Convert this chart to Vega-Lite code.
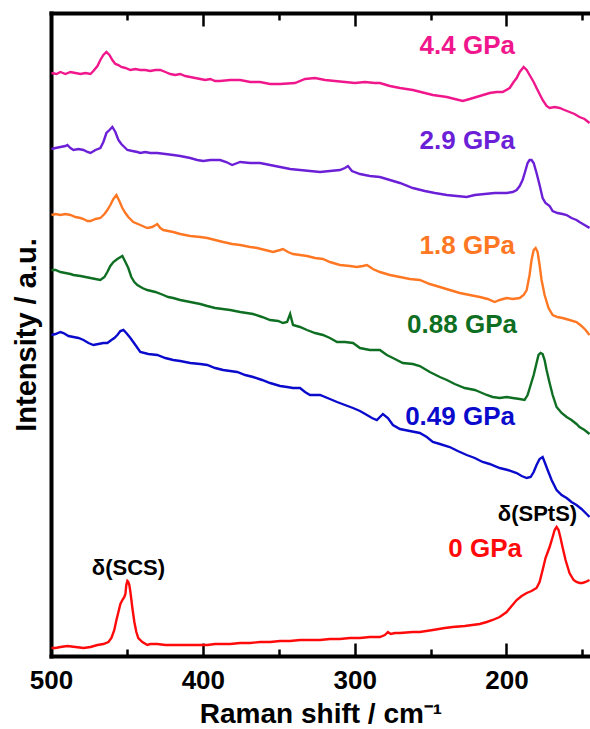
{
  "$schema": "https://vega.github.io/schema/vega-lite/v6.json",
  "width": 539,
  "height": 643,
  "autosize": {"type": "none"},
  "padding": {"left": 51, "top": 13, "right": 0, "bottom": 73},
  "config": {"view": {"stroke": null}, "font": "Liberation Sans"},
  "datasets": {
    "spectra": [
      {"s":"4.4 GPa","x":499.7,"y":583},{"s":"4.4 GPa","x":496.4,"y":582},{"s":"4.4 GPa","x":493.8,"y":584},{"s":"4.4 GPa","x":490.5,"y":582},{"s":"4.4 GPa","x":487.2,"y":584},{"s":"4.4 GPa","x":483.9,"y":583},{"s":"4.4 GPa","x":480.6,"y":582},{"s":"4.4 GPa","x":477.3,"y":583},{"s":"4.4 GPa","x":474.0,"y":582},{"s":"4.4 GPa","x":472.1,"y":585},{"s":"4.4 GPa","x":469.4,"y":590},{"s":"4.4 GPa","x":467.5,"y":596},{"s":"4.4 GPa","x":465.5,"y":601},{"s":"4.4 GPa","x":463.5,"y":604},{"s":"4.4 GPa","x":461.5,"y":601},{"s":"4.4 GPa","x":459.6,"y":596},{"s":"4.4 GPa","x":457.6,"y":592},{"s":"4.4 GPa","x":455.6,"y":591},{"s":"4.4 GPa","x":453.7,"y":589},{"s":"4.4 GPa","x":451.0,"y":588},{"s":"4.4 GPa","x":447.7,"y":586},{"s":"4.4 GPa","x":444.4,"y":587},{"s":"4.4 GPa","x":441.2,"y":586},{"s":"4.4 GPa","x":437.9,"y":586},{"s":"4.4 GPa","x":434.6,"y":585},{"s":"4.4 GPa","x":431.3,"y":586},{"s":"4.4 GPa","x":428.0,"y":586},{"s":"4.4 GPa","x":424.7,"y":584},{"s":"4.4 GPa","x":421.4,"y":582},{"s":"4.4 GPa","x":418.2,"y":581},{"s":"4.4 GPa","x":414.9,"y":582},{"s":"4.4 GPa","x":411.6,"y":580},{"s":"4.4 GPa","x":408.3,"y":579},{"s":"4.4 GPa","x":405.0,"y":578},{"s":"4.4 GPa","x":401.7,"y":577},{"s":"4.4 GPa","x":398.4,"y":576},{"s":"4.4 GPa","x":395.1,"y":577},{"s":"4.4 GPa","x":391.9,"y":575},{"s":"4.4 GPa","x":388.6,"y":575},{"s":"4.4 GPa","x":382.0,"y":576},{"s":"4.4 GPa","x":375.4,"y":576},{"s":"4.4 GPa","x":368.8,"y":574},{"s":"4.4 GPa","x":362.3,"y":574},{"s":"4.4 GPa","x":355.7,"y":572},{"s":"4.4 GPa","x":349.1,"y":572},{"s":"4.4 GPa","x":339.3,"y":573},{"s":"4.4 GPa","x":332.7,"y":577},{"s":"4.4 GPa","x":326.1,"y":578},{"s":"4.4 GPa","x":319.5,"y":576},{"s":"4.4 GPa","x":313.0,"y":575},{"s":"4.4 GPa","x":306.4,"y":574},{"s":"4.4 GPa","x":299.8,"y":573},{"s":"4.4 GPa","x":293.2,"y":574},{"s":"4.4 GPa","x":286.7,"y":573},{"s":"4.4 GPa","x":283.4,"y":573},{"s":"4.4 GPa","x":276.8,"y":570},{"s":"4.4 GPa","x":270.2,"y":568},{"s":"4.4 GPa","x":261.7,"y":566},{"s":"4.4 GPa","x":253.8,"y":563},{"s":"4.4 GPa","x":248.5,"y":561},{"s":"4.4 GPa","x":239.3,"y":559},{"s":"4.4 GPa","x":234.1,"y":557},{"s":"4.4 GPa","x":228.8,"y":555},{"s":"4.4 GPa","x":224.2,"y":557},{"s":"4.4 GPa","x":217.6,"y":560},{"s":"4.4 GPa","x":211.1,"y":563},{"s":"4.4 GPa","x":206.5,"y":564},{"s":"4.4 GPa","x":202.5,"y":564},{"s":"4.4 GPa","x":197.9,"y":568},{"s":"4.4 GPa","x":195.3,"y":574},{"s":"4.4 GPa","x":193.3,"y":578},{"s":"4.4 GPa","x":191.3,"y":584},{"s":"4.4 GPa","x":188.7,"y":589},{"s":"4.4 GPa","x":186.7,"y":586},{"s":"4.4 GPa","x":184.8,"y":581},{"s":"4.4 GPa","x":182.1,"y":574},{"s":"4.4 GPa","x":180.2,"y":568},{"s":"4.4 GPa","x":178.2,"y":562},{"s":"4.4 GPa","x":176.2,"y":556},{"s":"4.4 GPa","x":173.6,"y":550},{"s":"4.4 GPa","x":171.6,"y":548},{"s":"4.4 GPa","x":168.3,"y":549},{"s":"4.4 GPa","x":165.0,"y":548},{"s":"4.4 GPa","x":161.8,"y":546},{"s":"4.4 GPa","x":158.5,"y":544},{"s":"4.4 GPa","x":155.2,"y":542},{"s":"4.4 GPa","x":151.9,"y":539},{"s":"4.4 GPa","x":148.6,"y":537},{"s":"4.4 GPa","x":145.3,"y":533},

      {"s":"2.9 GPa","x":499.7,"y":507},{"s":"2.9 GPa","x":497.0,"y":508},{"s":"2.9 GPa","x":493.8,"y":509},{"s":"2.9 GPa","x":490.5,"y":510},{"s":"2.9 GPa","x":489.2,"y":511},{"s":"2.9 GPa","x":487.2,"y":508},{"s":"2.9 GPa","x":485.2,"y":506},{"s":"2.9 GPa","x":481.9,"y":507},{"s":"2.9 GPa","x":478.6,"y":506},{"s":"2.9 GPa","x":476.0,"y":504},{"s":"2.9 GPa","x":474.0,"y":503},{"s":"2.9 GPa","x":470.7,"y":506},{"s":"2.9 GPa","x":467.5,"y":508},{"s":"2.9 GPa","x":465.5,"y":514},{"s":"2.9 GPa","x":463.5,"y":523},{"s":"2.9 GPa","x":461.5,"y":526},{"s":"2.9 GPa","x":459.6,"y":529},{"s":"2.9 GPa","x":457.6,"y":524},{"s":"2.9 GPa","x":455.6,"y":516},{"s":"2.9 GPa","x":453.7,"y":512},{"s":"2.9 GPa","x":451.7,"y":509},{"s":"2.9 GPa","x":449.7,"y":506},{"s":"2.9 GPa","x":446.4,"y":505},{"s":"2.9 GPa","x":443.1,"y":504},{"s":"2.9 GPa","x":441.2,"y":503},{"s":"2.9 GPa","x":437.9,"y":504},{"s":"2.9 GPa","x":434.6,"y":503},{"s":"2.9 GPa","x":430.0,"y":503},{"s":"2.9 GPa","x":424.7,"y":502},{"s":"2.9 GPa","x":419.5,"y":501},{"s":"2.9 GPa","x":414.9,"y":500},{"s":"2.9 GPa","x":408.3,"y":498},{"s":"2.9 GPa","x":403.7,"y":496},{"s":"2.9 GPa","x":399.7,"y":495},{"s":"2.9 GPa","x":395.1,"y":496},{"s":"2.9 GPa","x":388.6,"y":496},{"s":"2.9 GPa","x":384.6,"y":494},{"s":"2.9 GPa","x":380.7,"y":491},{"s":"2.9 GPa","x":375.4,"y":494},{"s":"2.9 GPa","x":368.8,"y":493},{"s":"2.9 GPa","x":362.3,"y":493},{"s":"2.9 GPa","x":355.7,"y":491},{"s":"2.9 GPa","x":349.1,"y":489},{"s":"2.9 GPa","x":342.5,"y":487},{"s":"2.9 GPa","x":336.0,"y":486},{"s":"2.9 GPa","x":329.4,"y":485},{"s":"2.9 GPa","x":322.8,"y":484},{"s":"2.9 GPa","x":316.3,"y":485},{"s":"2.9 GPa","x":309.7,"y":486},{"s":"2.9 GPa","x":306.4,"y":488},{"s":"2.9 GPa","x":304.4,"y":490},{"s":"2.9 GPa","x":301.8,"y":485},{"s":"2.9 GPa","x":296.5,"y":482},{"s":"2.9 GPa","x":290.0,"y":480},{"s":"2.9 GPa","x":283.4,"y":479},{"s":"2.9 GPa","x":276.8,"y":476},{"s":"2.9 GPa","x":270.2,"y":473},{"s":"2.9 GPa","x":261.7,"y":468},{"s":"2.9 GPa","x":253.8,"y":465},{"s":"2.9 GPa","x":247.2,"y":463},{"s":"2.9 GPa","x":239.3,"y":461},{"s":"2.9 GPa","x":232.8,"y":460},{"s":"2.9 GPa","x":226.2,"y":459},{"s":"2.9 GPa","x":220.9,"y":461},{"s":"2.9 GPa","x":214.4,"y":462},{"s":"2.9 GPa","x":207.8,"y":463},{"s":"2.9 GPa","x":199.9,"y":463},{"s":"2.9 GPa","x":195.9,"y":464},{"s":"2.9 GPa","x":193.3,"y":466},{"s":"2.9 GPa","x":191.3,"y":470},{"s":"2.9 GPa","x":189.4,"y":476},{"s":"2.9 GPa","x":187.4,"y":486},{"s":"2.9 GPa","x":186.1,"y":493},{"s":"2.9 GPa","x":184.8,"y":496},{"s":"2.9 GPa","x":183.5,"y":496},{"s":"2.9 GPa","x":182.1,"y":493},{"s":"2.9 GPa","x":180.2,"y":483},{"s":"2.9 GPa","x":178.2,"y":471},{"s":"2.9 GPa","x":176.2,"y":458},{"s":"2.9 GPa","x":174.3,"y":453},{"s":"2.9 GPa","x":171.6,"y":450},{"s":"2.9 GPa","x":169.6,"y":445},{"s":"2.9 GPa","x":166.4,"y":443},{"s":"2.9 GPa","x":163.1,"y":442},{"s":"2.9 GPa","x":160.4,"y":441},{"s":"2.9 GPa","x":157.2,"y":438},{"s":"2.9 GPa","x":153.9,"y":436},{"s":"2.9 GPa","x":151.9,"y":434},{"s":"2.9 GPa","x":148.6,"y":431},{"s":"2.9 GPa","x":145.3,"y":428},

      {"s":"1.8 GPa","x":499.7,"y":441},{"s":"1.8 GPa","x":497.0,"y":442},{"s":"1.8 GPa","x":493.8,"y":441},{"s":"1.8 GPa","x":490.5,"y":442},{"s":"1.8 GPa","x":487.2,"y":441},{"s":"1.8 GPa","x":483.9,"y":439},{"s":"1.8 GPa","x":480.6,"y":438},{"s":"1.8 GPa","x":478.6,"y":437},{"s":"1.8 GPa","x":476.0,"y":435},{"s":"1.8 GPa","x":474.0,"y":435},{"s":"1.8 GPa","x":470.7,"y":437},{"s":"1.8 GPa","x":467.5,"y":438},{"s":"1.8 GPa","x":464.8,"y":442},{"s":"1.8 GPa","x":462.9,"y":446},{"s":"1.8 GPa","x":460.9,"y":451},{"s":"1.8 GPa","x":458.9,"y":457},{"s":"1.8 GPa","x":456.9,"y":461},{"s":"1.8 GPa","x":455.0,"y":455},{"s":"1.8 GPa","x":453.0,"y":448},{"s":"1.8 GPa","x":451.0,"y":443},{"s":"1.8 GPa","x":449.1,"y":439},{"s":"1.8 GPa","x":445.8,"y":434},{"s":"1.8 GPa","x":441.2,"y":431},{"s":"1.8 GPa","x":436.6,"y":428},{"s":"1.8 GPa","x":433.3,"y":429},{"s":"1.8 GPa","x":430.0,"y":432},{"s":"1.8 GPa","x":428.0,"y":428},{"s":"1.8 GPa","x":426.0,"y":426},{"s":"1.8 GPa","x":422.8,"y":425},{"s":"1.8 GPa","x":419.5,"y":424},{"s":"1.8 GPa","x":414.9,"y":422},{"s":"1.8 GPa","x":408.3,"y":420},{"s":"1.8 GPa","x":401.7,"y":419},{"s":"1.8 GPa","x":397.1,"y":418},{"s":"1.8 GPa","x":391.9,"y":416},{"s":"1.8 GPa","x":386.6,"y":414},{"s":"1.8 GPa","x":380.7,"y":412},{"s":"1.8 GPa","x":375.4,"y":411},{"s":"1.8 GPa","x":368.8,"y":409},{"s":"1.8 GPa","x":364.2,"y":408},{"s":"1.8 GPa","x":359.0,"y":406},{"s":"1.8 GPa","x":353.7,"y":404},{"s":"1.8 GPa","x":349.1,"y":406},{"s":"1.8 GPa","x":347.2,"y":407},{"s":"1.8 GPa","x":343.9,"y":404},{"s":"1.8 GPa","x":340.6,"y":402},{"s":"1.8 GPa","x":336.0,"y":401},{"s":"1.8 GPa","x":331.4,"y":400},{"s":"1.8 GPa","x":326.1,"y":398},{"s":"1.8 GPa","x":320.9,"y":397},{"s":"1.8 GPa","x":316.3,"y":394},{"s":"1.8 GPa","x":309.7,"y":391},{"s":"1.8 GPa","x":303.1,"y":390},{"s":"1.8 GPa","x":298.5,"y":389},{"s":"1.8 GPa","x":294.6,"y":390},{"s":"1.8 GPa","x":291.9,"y":391},{"s":"1.8 GPa","x":288.0,"y":387},{"s":"1.8 GPa","x":283.4,"y":384},{"s":"1.8 GPa","x":276.8,"y":381},{"s":"1.8 GPa","x":270.2,"y":379},{"s":"1.8 GPa","x":263.7,"y":377},{"s":"1.8 GPa","x":257.1,"y":376},{"s":"1.8 GPa","x":250.5,"y":372},{"s":"1.8 GPa","x":243.9,"y":369},{"s":"1.8 GPa","x":237.4,"y":366},{"s":"1.8 GPa","x":230.8,"y":363},{"s":"1.8 GPa","x":224.2,"y":361},{"s":"1.8 GPa","x":217.6,"y":359},{"s":"1.8 GPa","x":212.4,"y":357},{"s":"1.8 GPa","x":207.8,"y":354},{"s":"1.8 GPa","x":204.5,"y":356},{"s":"1.8 GPa","x":199.9,"y":358},{"s":"1.8 GPa","x":195.9,"y":357},{"s":"1.8 GPa","x":191.3,"y":358},{"s":"1.8 GPa","x":188.7,"y":361},{"s":"1.8 GPa","x":186.7,"y":366},{"s":"1.8 GPa","x":184.8,"y":381},{"s":"1.8 GPa","x":183.5,"y":396},{"s":"1.8 GPa","x":182.1,"y":406},{"s":"1.8 GPa","x":180.8,"y":408},{"s":"1.8 GPa","x":179.5,"y":404},{"s":"1.8 GPa","x":178.2,"y":391},{"s":"1.8 GPa","x":176.9,"y":376},{"s":"1.8 GPa","x":174.9,"y":361},{"s":"1.8 GPa","x":172.3,"y":348},{"s":"1.8 GPa","x":169.6,"y":341},{"s":"1.8 GPa","x":166.4,"y":339},{"s":"1.8 GPa","x":163.1,"y":338},{"s":"1.8 GPa","x":158.5,"y":336},{"s":"1.8 GPa","x":153.9,"y":334},{"s":"1.8 GPa","x":150.6,"y":330},{"s":"1.8 GPa","x":147.9,"y":326},{"s":"1.8 GPa","x":145.3,"y":321},

      {"s":"0.88 GPa","x":499.7,"y":386},{"s":"0.88 GPa","x":497.0,"y":386},{"s":"0.88 GPa","x":493.8,"y":384},{"s":"0.88 GPa","x":490.5,"y":383},{"s":"0.88 GPa","x":487.2,"y":382},{"s":"0.88 GPa","x":485.2,"y":381},{"s":"0.88 GPa","x":480.6,"y":380},{"s":"0.88 GPa","x":477.3,"y":379},{"s":"0.88 GPa","x":474.0,"y":378},{"s":"0.88 GPa","x":470.7,"y":377},{"s":"0.88 GPa","x":467.5,"y":376},{"s":"0.88 GPa","x":464.8,"y":379},{"s":"0.88 GPa","x":462.9,"y":384},{"s":"0.88 GPa","x":460.9,"y":390},{"s":"0.88 GPa","x":458.9,"y":394},{"s":"0.88 GPa","x":456.3,"y":397},{"s":"0.88 GPa","x":453.0,"y":400},{"s":"0.88 GPa","x":451.0,"y":394},{"s":"0.88 GPa","x":449.1,"y":388},{"s":"0.88 GPa","x":447.1,"y":379},{"s":"0.88 GPa","x":445.1,"y":374},{"s":"0.88 GPa","x":443.1,"y":371},{"s":"0.88 GPa","x":439.8,"y":368},{"s":"0.88 GPa","x":436.6,"y":366},{"s":"0.88 GPa","x":431.3,"y":364},{"s":"0.88 GPa","x":426.0,"y":361},{"s":"0.88 GPa","x":422.8,"y":359},{"s":"0.88 GPa","x":419.5,"y":358},{"s":"0.88 GPa","x":414.9,"y":356},{"s":"0.88 GPa","x":408.3,"y":354},{"s":"0.88 GPa","x":401.7,"y":352},{"s":"0.88 GPa","x":397.1,"y":350},{"s":"0.88 GPa","x":391.9,"y":348},{"s":"0.88 GPa","x":382.0,"y":346},{"s":"0.88 GPa","x":375.4,"y":344},{"s":"0.88 GPa","x":366.9,"y":342},{"s":"0.88 GPa","x":361.0,"y":339},{"s":"0.88 GPa","x":355.7,"y":336},{"s":"0.88 GPa","x":350.4,"y":335},{"s":"0.88 GPa","x":347.2,"y":333},{"s":"0.88 GPa","x":344.5,"y":334},{"s":"0.88 GPa","x":342.5,"y":342},{"s":"0.88 GPa","x":340.6,"y":331},{"s":"0.88 GPa","x":336.0,"y":329},{"s":"0.88 GPa","x":331.4,"y":326},{"s":"0.88 GPa","x":326.1,"y":323},{"s":"0.88 GPa","x":320.9,"y":321},{"s":"0.88 GPa","x":316.3,"y":318},{"s":"0.88 GPa","x":311.6,"y":314},{"s":"0.88 GPa","x":306.4,"y":314},{"s":"0.88 GPa","x":301.1,"y":313},{"s":"0.88 GPa","x":296.5,"y":308},{"s":"0.88 GPa","x":290.0,"y":306},{"s":"0.88 GPa","x":283.4,"y":306},{"s":"0.88 GPa","x":278.8,"y":301},{"s":"0.88 GPa","x":273.5,"y":297},{"s":"0.88 GPa","x":268.3,"y":293},{"s":"0.88 GPa","x":261.7,"y":292},{"s":"0.88 GPa","x":257.1,"y":290},{"s":"0.88 GPa","x":250.5,"y":284},{"s":"0.88 GPa","x":243.9,"y":279},{"s":"0.88 GPa","x":239.3,"y":276},{"s":"0.88 GPa","x":234.1,"y":272},{"s":"0.88 GPa","x":227.5,"y":268},{"s":"0.88 GPa","x":220.9,"y":266},{"s":"0.88 GPa","x":217.6,"y":264},{"s":"0.88 GPa","x":213.0,"y":261},{"s":"0.88 GPa","x":209.1,"y":259},{"s":"0.88 GPa","x":204.5,"y":258},{"s":"0.88 GPa","x":199.9,"y":259},{"s":"0.88 GPa","x":195.9,"y":258},{"s":"0.88 GPa","x":191.3,"y":257},{"s":"0.88 GPa","x":188.1,"y":256},{"s":"0.88 GPa","x":186.1,"y":261},{"s":"0.88 GPa","x":184.1,"y":271},{"s":"0.88 GPa","x":182.1,"y":281},{"s":"0.88 GPa","x":180.2,"y":293},{"s":"0.88 GPa","x":178.9,"y":301},{"s":"0.88 GPa","x":177.5,"y":303},{"s":"0.88 GPa","x":176.2,"y":302},{"s":"0.88 GPa","x":174.9,"y":296},{"s":"0.88 GPa","x":173.6,"y":286},{"s":"0.88 GPa","x":171.6,"y":273},{"s":"0.88 GPa","x":169.6,"y":261},{"s":"0.88 GPa","x":167.0,"y":249},{"s":"0.88 GPa","x":163.7,"y":243},{"s":"0.88 GPa","x":160.4,"y":239},{"s":"0.88 GPa","x":157.2,"y":236},{"s":"0.88 GPa","x":153.9,"y":232},{"s":"0.88 GPa","x":151.9,"y":229},{"s":"0.88 GPa","x":148.6,"y":226},{"s":"0.88 GPa","x":145.3,"y":222},

      {"s":"0.49 GPa","x":499.7,"y":321},{"s":"0.49 GPa","x":497.0,"y":322},{"s":"0.49 GPa","x":493.8,"y":324},{"s":"0.49 GPa","x":491.8,"y":323},{"s":"0.49 GPa","x":488.5,"y":320},{"s":"0.49 GPa","x":485.2,"y":319},{"s":"0.49 GPa","x":481.9,"y":318},{"s":"0.49 GPa","x":478.6,"y":316},{"s":"0.49 GPa","x":475.3,"y":313},{"s":"0.49 GPa","x":472.1,"y":311},{"s":"0.49 GPa","x":468.8,"y":312},{"s":"0.49 GPa","x":465.5,"y":313},{"s":"0.49 GPa","x":462.9,"y":313},{"s":"0.49 GPa","x":460.2,"y":316},{"s":"0.49 GPa","x":458.3,"y":318},{"s":"0.49 GPa","x":456.3,"y":321},{"s":"0.49 GPa","x":454.3,"y":325},{"s":"0.49 GPa","x":452.3,"y":326},{"s":"0.49 GPa","x":450.4,"y":323},{"s":"0.49 GPa","x":447.7,"y":318},{"s":"0.49 GPa","x":444.4,"y":311},{"s":"0.49 GPa","x":441.2,"y":304},{"s":"0.49 GPa","x":435.9,"y":302},{"s":"0.49 GPa","x":430.0,"y":301},{"s":"0.49 GPa","x":424.7,"y":298},{"s":"0.49 GPa","x":419.5,"y":296},{"s":"0.49 GPa","x":414.9,"y":295},{"s":"0.49 GPa","x":408.3,"y":293},{"s":"0.49 GPa","x":401.7,"y":292},{"s":"0.49 GPa","x":397.1,"y":291},{"s":"0.49 GPa","x":391.9,"y":288},{"s":"0.49 GPa","x":386.6,"y":286},{"s":"0.49 GPa","x":382.0,"y":285},{"s":"0.49 GPa","x":377.4,"y":284},{"s":"0.49 GPa","x":372.1,"y":281},{"s":"0.49 GPa","x":366.9,"y":279},{"s":"0.49 GPa","x":361.0,"y":276},{"s":"0.49 GPa","x":355.7,"y":273},{"s":"0.49 GPa","x":349.1,"y":270},{"s":"0.49 GPa","x":344.5,"y":269},{"s":"0.49 GPa","x":340.6,"y":268},{"s":"0.49 GPa","x":336.0,"y":268},{"s":"0.49 GPa","x":332.7,"y":264},{"s":"0.49 GPa","x":329.4,"y":261},{"s":"0.49 GPa","x":322.8,"y":261},{"s":"0.49 GPa","x":316.3,"y":257},{"s":"0.49 GPa","x":311.6,"y":254},{"s":"0.49 GPa","x":306.4,"y":251},{"s":"0.49 GPa","x":301.1,"y":248},{"s":"0.49 GPa","x":296.5,"y":245},{"s":"0.49 GPa","x":291.9,"y":241},{"s":"0.49 GPa","x":288.6,"y":238},{"s":"0.49 GPa","x":285.4,"y":236},{"s":"0.49 GPa","x":281.4,"y":242},{"s":"0.49 GPa","x":278.1,"y":238},{"s":"0.49 GPa","x":274.8,"y":231},{"s":"0.49 GPa","x":270.2,"y":227},{"s":"0.49 GPa","x":263.7,"y":225},{"s":"0.49 GPa","x":257.1,"y":223},{"s":"0.49 GPa","x":252.5,"y":219},{"s":"0.49 GPa","x":248.5,"y":214},{"s":"0.49 GPa","x":243.9,"y":212},{"s":"0.49 GPa","x":237.4,"y":209},{"s":"0.49 GPa","x":232.1,"y":205},{"s":"0.49 GPa","x":226.2,"y":201},{"s":"0.49 GPa","x":220.9,"y":198},{"s":"0.49 GPa","x":215.7,"y":194},{"s":"0.49 GPa","x":211.1,"y":192},{"s":"0.49 GPa","x":204.5,"y":188},{"s":"0.49 GPa","x":199.2,"y":186},{"s":"0.49 GPa","x":193.3,"y":183},{"s":"0.49 GPa","x":190.0,"y":180},{"s":"0.49 GPa","x":186.7,"y":178},{"s":"0.49 GPa","x":184.1,"y":179},{"s":"0.49 GPa","x":182.1,"y":184},{"s":"0.49 GPa","x":180.2,"y":191},{"s":"0.49 GPa","x":178.2,"y":197},{"s":"0.49 GPa","x":176.2,"y":199},{"s":"0.49 GPa","x":174.9,"y":194},{"s":"0.49 GPa","x":172.9,"y":186},{"s":"0.49 GPa","x":170.3,"y":176},{"s":"0.49 GPa","x":167.0,"y":166},{"s":"0.49 GPa","x":163.7,"y":161},{"s":"0.49 GPa","x":160.4,"y":158},{"s":"0.49 GPa","x":157.2,"y":154},{"s":"0.49 GPa","x":153.9,"y":151},{"s":"0.49 GPa","x":150.6,"y":147},{"s":"0.49 GPa","x":147.9,"y":143},{"s":"0.49 GPa","x":145.3,"y":139},

      {"s":"0 GPa","x":499.7,"y":8},{"s":"0 GPa","x":497.0,"y":8},{"s":"0 GPa","x":493.8,"y":9},{"s":"0 GPa","x":489.2,"y":10},{"s":"0 GPa","x":483.9,"y":9},{"s":"0 GPa","x":478.6,"y":8},{"s":"0 GPa","x":474.0,"y":9},{"s":"0 GPa","x":469.4,"y":11},{"s":"0 GPa","x":465.5,"y":12},{"s":"0 GPa","x":462.2,"y":14},{"s":"0 GPa","x":460.2,"y":18},{"s":"0 GPa","x":458.3,"y":26},{"s":"0 GPa","x":456.9,"y":36},{"s":"0 GPa","x":455.6,"y":44},{"s":"0 GPa","x":454.3,"y":52},{"s":"0 GPa","x":453.0,"y":56},{"s":"0 GPa","x":451.7,"y":59},{"s":"0 GPa","x":451.0,"y":62},{"s":"0 GPa","x":450.4,"y":71},{"s":"0 GPa","x":449.7,"y":75},{"s":"0 GPa","x":449.1,"y":74},{"s":"0 GPa","x":448.4,"y":71},{"s":"0 GPa","x":447.7,"y":64},{"s":"0 GPa","x":446.4,"y":48},{"s":"0 GPa","x":445.1,"y":34},{"s":"0 GPa","x":443.8,"y":24},{"s":"0 GPa","x":442.5,"y":18},{"s":"0 GPa","x":439.8,"y":14},{"s":"0 GPa","x":436.6,"y":11},{"s":"0 GPa","x":434.6,"y":12},{"s":"0 GPa","x":430.0,"y":12},{"s":"0 GPa","x":424.7,"y":11},{"s":"0 GPa","x":419.5,"y":11},{"s":"0 GPa","x":414.9,"y":11},{"s":"0 GPa","x":408.3,"y":11},{"s":"0 GPa","x":401.7,"y":11},{"s":"0 GPa","x":397.1,"y":11},{"s":"0 GPa","x":391.9,"y":12},{"s":"0 GPa","x":386.6,"y":12},{"s":"0 GPa","x":382.0,"y":12},{"s":"0 GPa","x":375.4,"y":13},{"s":"0 GPa","x":368.8,"y":13},{"s":"0 GPa","x":362.3,"y":14},{"s":"0 GPa","x":355.7,"y":14},{"s":"0 GPa","x":349.1,"y":15},{"s":"0 GPa","x":342.5,"y":15},{"s":"0 GPa","x":336.0,"y":16},{"s":"0 GPa","x":329.4,"y":16},{"s":"0 GPa","x":322.8,"y":16},{"s":"0 GPa","x":316.3,"y":17},{"s":"0 GPa","x":309.7,"y":17},{"s":"0 GPa","x":303.1,"y":18},{"s":"0 GPa","x":296.5,"y":18},{"s":"0 GPa","x":290.0,"y":19},{"s":"0 GPa","x":283.4,"y":19},{"s":"0 GPa","x":280.1,"y":21},{"s":"0 GPa","x":278.1,"y":24},{"s":"0 GPa","x":276.2,"y":22},{"s":"0 GPa","x":273.5,"y":23},{"s":"0 GPa","x":270.2,"y":23},{"s":"0 GPa","x":261.7,"y":24},{"s":"0 GPa","x":257.1,"y":24},{"s":"0 GPa","x":248.5,"y":26},{"s":"0 GPa","x":240.6,"y":28},{"s":"0 GPa","x":235.4,"y":29},{"s":"0 GPa","x":227.5,"y":30},{"s":"0 GPa","x":217.6,"y":32},{"s":"0 GPa","x":213.0,"y":34},{"s":"0 GPa","x":209.1,"y":36},{"s":"0 GPa","x":204.5,"y":39},{"s":"0 GPa","x":199.9,"y":44},{"s":"0 GPa","x":196.6,"y":50},{"s":"0 GPa","x":193.3,"y":56},{"s":"0 GPa","x":190.0,"y":60},{"s":"0 GPa","x":186.7,"y":63},{"s":"0 GPa","x":183.5,"y":65},{"s":"0 GPa","x":180.2,"y":68},{"s":"0 GPa","x":178.2,"y":74},{"s":"0 GPa","x":176.2,"y":86},{"s":"0 GPa","x":174.3,"y":98},{"s":"0 GPa","x":171.6,"y":109},{"s":"0 GPa","x":169.6,"y":119},{"s":"0 GPa","x":168.3,"y":126},{"s":"0 GPa","x":167.0,"y":129},{"s":"0 GPa","x":165.7,"y":126},{"s":"0 GPa","x":164.4,"y":118},{"s":"0 GPa","x":163.1,"y":109},{"s":"0 GPa","x":161.1,"y":96},{"s":"0 GPa","x":158.5,"y":83},{"s":"0 GPa","x":155.8,"y":76},{"s":"0 GPa","x":153.9,"y":74},{"s":"0 GPa","x":151.9,"y":73},{"s":"0 GPa","x":149.9,"y":73},{"s":"0 GPa","x":147.9,"y":74},{"s":"0 GPa","x":145.3,"y":76}
    ],
    "labels": [
      {"s":"4.4 GPa","x":194.4,"y":610},
      {"s":"2.9 GPa","x":194.4,"y":515},
      {"s":"1.8 GPa","x":194.4,"y":410},
      {"s":"0.88 GPa","x":193.1,"y":331},
      {"s":"0.49 GPa","x":194.4,"y":239},
      {"s":"0 GPa","x":189.8,"y":107}
    ],
    "notes": [
      {"t":"δ(SCS)","x":449.0,"y":88},
      {"t":"δ(SPtS)","x":179.6,"y":142}
    ]
  },
  "resolve": {"axis": {"x": "independent"}},
  "layer": [
    {
      "data": {"name": "spectra"},
      "mark": {"type": "line", "strokeWidth": 2.4, "clip": true},
      "encoding": {
        "x": {"field": "x", "type": "quantitative",
          "scale": {"domain": [500, 145], "nice": false, "zero": false},
          "axis": {"orient": "bottom", "values": [500, 450, 400, 350, 300, 250, 200, 150],
            "labelExpr": "datum.value % 100 === 0 ? datum.label : ''",
            "tickSize": {"condition": {"test": "datum.value % 100 === 0", "value": -13}, "value": -7},
            "tickWidth": 2.5, "tickColor": "black", "domainWidth": 4, "domainColor": "black", "domainCap": "square",
            "labelFont": "Liberation Sans", "labelFontWeight": "bold", "labelFontSize": 26, "labelColor": "black",
            "labelPadding": 24, "labelFlush": false, "labelOverlap": false, "grid": false,
            "title": "Raman shift / cm⁻¹", "titleFont": "Liberation Sans", "titleFontSize": 28,
            "titleFontWeight": "bold", "titleColor": "black", "titlePadding": 1}},
        "y": {"field": "y", "type": "quantitative",
          "scale": {"domain": [0, 643], "nice": false, "zero": false},
          "axis": {"orient": "left", "ticks": false, "labels": false, "grid": false,
            "domainWidth": 4, "domainColor": "black", "domainCap": "square",
            "title": "Intensity / a.u.", "titleFont": "Liberation Sans", "titleFontSize": 29,
            "titleFontWeight": "bold", "titleColor": "black", "titlePadding": 10}},
        "color": {"field": "s", "type": "nominal", "legend": null,
          "scale": {"domain": ["4.4 GPa", "2.9 GPa", "1.8 GPa", "0.88 GPa", "0.49 GPa", "0 GPa"],
            "range": ["#F0168C", "#6B1FD6", "#FF7722", "#0E6E22", "#0A0ACC", "#FF0A0A"]}},
        "detail": {"field": "s"}
      }
    },
    {
      "data": {"name": "labels"},
      "mark": {"type": "text", "align": "right", "baseline": "middle", "font": "Liberation Sans", "fontWeight": "bold", "fontSize": 26},
      "encoding": {
        "x": {"field": "x", "type": "quantitative",
          "scale": {"domain": [500, 145], "nice": false, "zero": false},
          "axis": {"orient": "top", "values": [500, 450, 400, 350, 300, 250, 200, 150],
            "labels": false, "title": null, "grid": false,
            "tickSize": {"condition": {"test": "datum.value % 100 === 0", "value": -13}, "value": -7},
            "tickWidth": 2.5, "tickColor": "black", "domainWidth": 4, "domainColor": "black", "domainCap": "square"}},
        "y": {"field": "y", "type": "quantitative",
          "scale": {"domain": [0, 643], "nice": false, "zero": false}},
        "text": {"field": "s"},
        "color": {"field": "s", "type": "nominal", "legend": null}
      }
    },
    {
      "data": {"name": "notes"},
      "mark": {"type": "text", "align": "center", "baseline": "middle", "font": "Liberation Sans", "fontWeight": "bold", "fontSize": 22, "color": "black"},
      "encoding": {
        "x": {"field": "x", "type": "quantitative",
          "scale": {"domain": [500, 145], "nice": false, "zero": false}, "axis": null},
        "y": {"field": "y", "type": "quantitative",
          "scale": {"domain": [0, 643], "nice": false, "zero": false}},
        "text": {"field": "t"}
      }
    }
  ]
}
